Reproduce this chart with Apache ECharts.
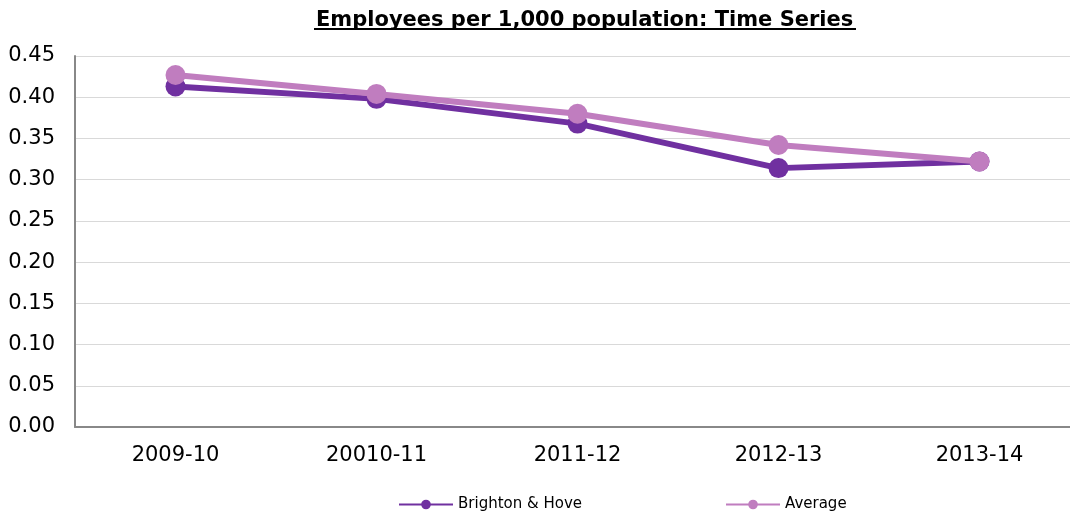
<!DOCTYPE html>
<html>
<head>
<meta charset="utf-8">
<script src="https://cdn.jsdelivr.net/npm/echarts@6/dist/echarts.min.js"></script>
<style>
  html, body { margin: 0; padding: 0; background: #fff; }
  #chart { width: 1070px; height: 515px; }
</style>
</head>
<body>
<div id="chart"></div>
<script>
// 年份
var years = ['2009-10', '20010-11', '2011-12', '2012-13', '2013-14'];
var brighton = [0.413, 0.398, 0.368, 0.314, 0.322];
var average = [0.427, 0.404, 0.380, 0.342, 0.322];
var yTicks = [0, 0.05, 0.1, 0.15, 0.2, 0.25, 0.3, 0.35, 0.4, 0.45];

var myChart = echarts.init(document.getElementById('chart'));
var font = '"DejaVu Sans", Verdana, sans-serif';

var option = {
  animation: false,
  color: ['#7030a0', '#c07dbf'],
  title: {
    text: 'Employees per 1,000 population: Time Series',
    left: 311,
    top: 5,
    textStyle: {
      fontFamily: font,
      fontSize: 21,
      fontWeight: 'bold',
      color: '#000'
    }
  },
  graphic: [{
    type: 'line',
    shape: {x1: 314, y1: 29, x2: 856, y2: 29},
    style: {stroke: '#000', lineWidth: 2}
  }],
  legend: {
    data: ['Brighton & Hove', 'Average'],
    top: 492,
    left: 393,
    itemWidth: 54,
    itemHeight: 12,
    itemGap: 143,
    textStyle: {
      fontFamily: font,
      fontSize: 15,
      color: '#000'
    }
  },
  grid: {
    left: 75,
    width: 1005,
    top: 56,
    height: 371,
    outerBoundsMode: 'none',
    containLabel: false
  },
  xAxis: {
    type: 'category',
    data: years,
    boundaryGap: true,
    axisTick: {show: false},
    axisLine: {lineStyle: {color: '#888', width: 2}},
    axisLabel: {
      fontFamily: font,
      fontSize: 21,
      color: '#000',
      margin: 18
    },
    splitLine: {show: false}
  },
  yAxis: {
    type: 'value',
    min: 0,
    max: 0.45,
    interval: 0.05,
    axisLine: {show: true, lineStyle: {color: '#888', width: 2}},
    axisTick: {show: false},
    axisLabel: {
      fontFamily: font,
      fontSize: 21,
      color: '#000',
      margin: 20,
      formatter: function (v) {
        return v.toFixed(2);
      }
    },
    splitLine: {lineStyle: {color: '#d9d9d9', width: 1}}
  },
  series: [{
    name: 'Brighton & Hove',
    type: 'line',
    data: brighton,
    symbol: 'circle',
    symbolSize: 20,
    lineStyle: {width: 6},
    z: 2
  }, {
    name: 'Average',
    type: 'line',
    data: average,
    symbol: 'circle',
    symbolSize: 20,
    lineStyle: {width: 6},
    z: 3
  }]
};
myChart.setOption(option);
</script>
</body>
</html>
